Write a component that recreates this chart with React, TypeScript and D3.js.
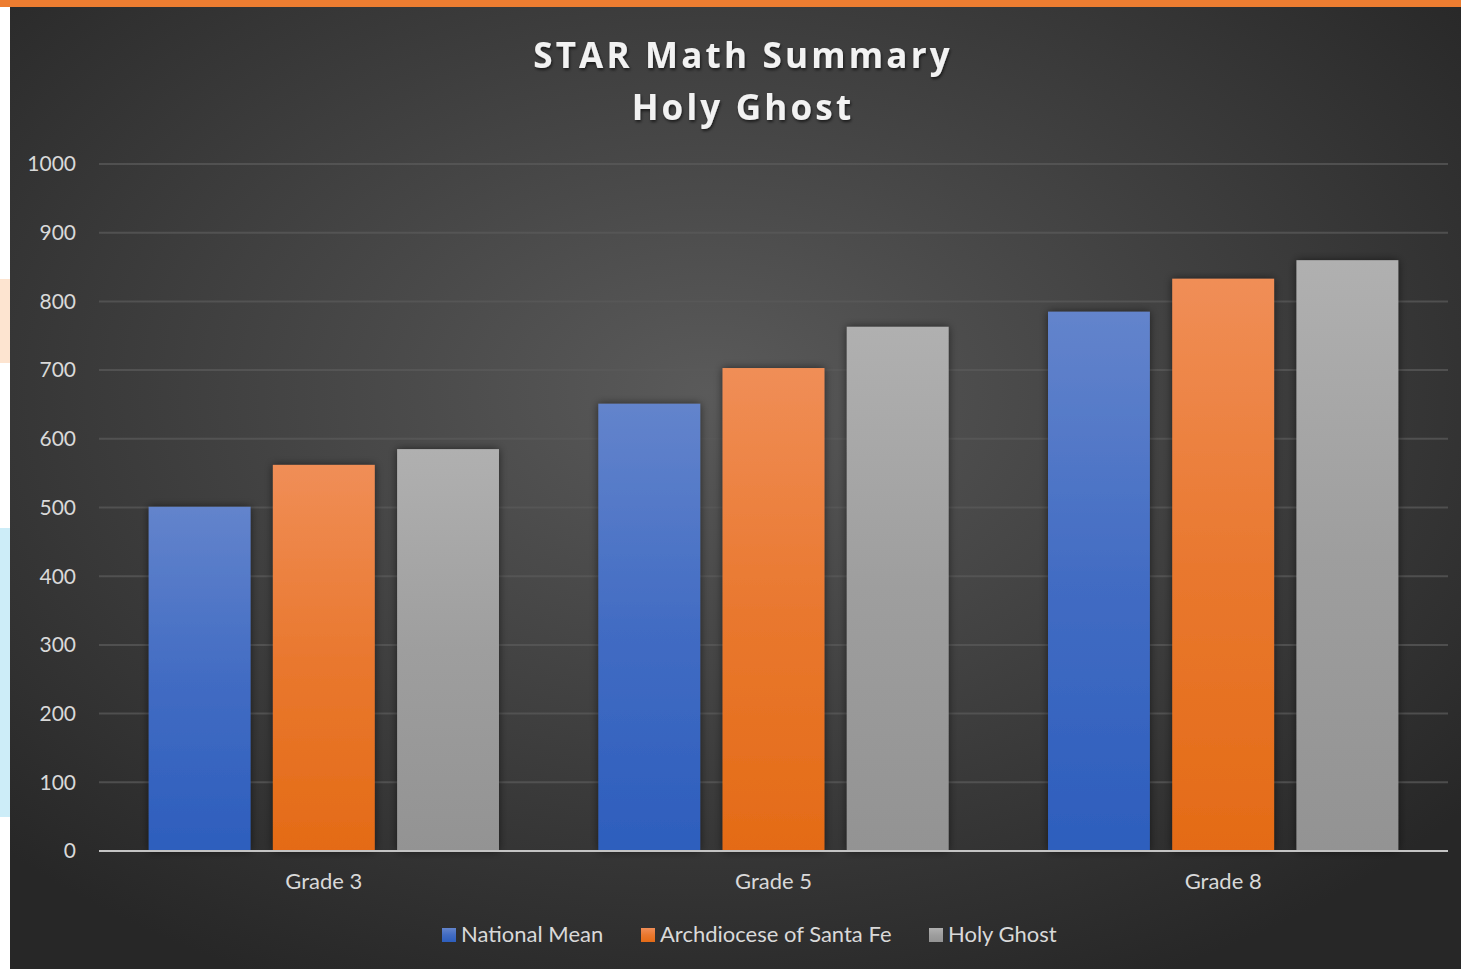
import * as d3 from 'd3'

const categories = ['Grade 3', 'Grade 5', 'Grade 8']
const seriesNames = ['National Mean', 'Archdiocese of Santa Fe', 'Holy Ghost']
const nationalMean = [501, 651, 785]
const archdiocese = [562, 703, 833]
const holyGhost = [585, 763, 860]
const yTicks = [0, 100, 200, 300, 400, 500, 600, 700, 800, 900, 1000]
const titleLines = ['STAR Math Summary', 'Holy Ghost']

const W = 1461
const H = 969
const margin = { top: 164, right: 13, bottom: 118, left: 99 }
const font = 'Lato, "Open Sans", sans-serif'

// top and bottom colours of each series' bar gradient
const gradients = [
  { id: 'g-blue', top: '#6384cc', bottom: '#2d5ebd' },
  { id: 'g-orange', top: '#f08e57', bottom: '#e46b16' },
  { id: 'g-gray', top: '#b0b0b0', bottom: '#939393' },
]

export default function App() {
  const innerW = W - margin.left - margin.right
  const innerH = H - margin.top - margin.bottom
  const values = [nationalMean, archdiocese, holyGhost]

  const x0 = d3.scaleBand<string>().domain(categories).range([0, innerW]).paddingInner(0).paddingOuter(0)
  const x1 = d3.scaleBand<number>()
    .domain(d3.range(seriesNames.length))
    .range([0, x0.bandwidth()])
    .paddingInner(0.18)
    .paddingOuter(0.4)
  const y = d3.scaleLinear().domain([0, 1000]).range([innerH, 0])

  const legend = [
    { x: 442, text: seriesNames[0] },
    { x: 641, text: seriesNames[1] },
    { x: 929, text: seriesNames[2] },
  ]

  return (
    <svg width={W} height={H} style={{ position: 'absolute', left: 0, top: 0, display: 'block' }}>
      <defs>
        <radialGradient id="bg" cx="48%" cy="40%" r="68%" fx="48%" fy="40%">
          <stop offset="0%" stopColor="#5a5a5a" />
          <stop offset="100%" stopColor="#272727" />
        </radialGradient>
        {gradients.map(g => (
          <linearGradient key={g.id} id={g.id} x1="0" y1="0" x2="0" y2="1">
            <stop offset="0%" stopColor={g.top} />
            <stop offset="50%" stopColor={d3.interpolateRgb(g.top, g.bottom)(0.62)} />
            <stop offset="100%" stopColor={g.bottom} />
          </linearGradient>
        ))}
        <filter id="shadow" x="-20%" y="-20%" width="140%" height="140%">
          <feDropShadow dx="0" dy="0" stdDeviation="4" floodColor="#000" floodOpacity="0.55" />
        </filter>
        <filter id="tshadow" x="-10%" y="-30%" width="120%" height="160%">
          <feDropShadow dx="1" dy="2" stdDeviation="1.5" floodColor="#000" floodOpacity="0.6" />
        </filter>
      </defs>

      <rect x={0} y={0} width={W} height={H} fill="#ffffff" />
      <rect x={0} y={279} width={10} height={84} fill="#fde4d0" />
      <rect x={0} y={528} width={10} height={289} fill="#cdedf8" />
      <rect x={10} y={7} width={W - 10} height={H - 7} fill="url(#bg)" />
      <rect x={0} y={0} width={W} height={7} fill="#ed7d31" />

      <g filter="url(#tshadow)">
        {titleLines.map((t, i) => (
          <text key={t} x={743} y={68 + i * 52} textAnchor="middle" fill="#f2f2f2"
            style={{ fontFamily: '"Open Sans", sans-serif', fontWeight: 700, fontSize: 35, letterSpacing: 3.2 }}>
            {t}
          </text>
        ))}
      </g>

      <g transform={`translate(${margin.left},${margin.top})`}>
        {yTicks.filter(t => t > 0).map(t => (
          <line key={t} x1={0} x2={innerW} y1={y(t)} y2={y(t)} stroke="#5a5a5a" strokeOpacity={0.75} strokeWidth={2} />
        ))}
        {yTicks.map(t => (
          <text key={'l' + t} x={-23} y={y(t)} dy="0.35em" textAnchor="end" fill="#d9d9d9"
            style={{ fontFamily: font, fontSize: 21 }}>
            {t}
          </text>
        ))}

        {categories.map((c, ci) => (
          <g key={c} transform={`translate(${x0(c)},0)`}>
            {values.map((s, si) => (
              <rect key={si} x={x1(si)} y={y(s[ci])} width={x1.bandwidth()} height={innerH - y(s[ci])}
                fill={`url(#${gradients[si].id})`} filter="url(#shadow)" />
            ))}
            <text x={x0.bandwidth() / 2} y={innerH + 38} textAnchor="middle" fill="#d9d9d9"
              style={{ fontFamily: font, fontSize: 22 }}>
              {c}
            </text>
          </g>
        ))}

        <line x1={0} x2={innerW} y1={innerH} y2={innerH} stroke="#c4c4c4" strokeWidth={2} />
      </g>

      {legend.map((l, i) => (
        <g key={l.text}>
          <rect x={l.x} y={928} width={14} height={14} fill={`url(#${gradients[i].id})`} />
          <text x={l.x + 19} y={942} fill="#d9d9d9" style={{ fontFamily: font, fontSize: 22 }}>
            {l.text}
          </text>
        </g>
      ))}
    </svg>
  )
}
